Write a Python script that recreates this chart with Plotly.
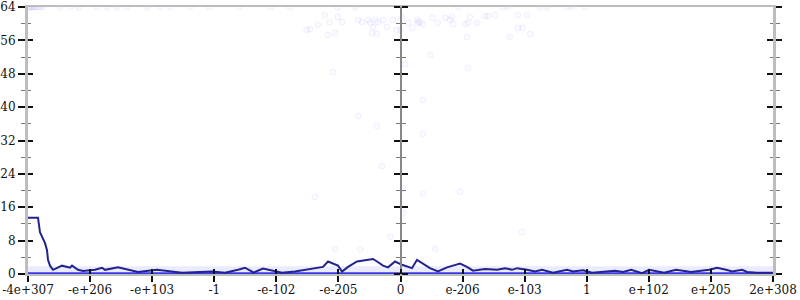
import plotly.graph_objects as go

# x positions are in an ordered float-space index (-6 .. 6), labelled with float magnitudes
tick_vals = [-6, -5, -4, -3, -2, -1, 0, 1, 2, 3, 4, 5, 6]
tick_text = ["-4e+307", "-e+206", "-e+103", "-1", "-e-102", "-e-205", "0",
             "e-206", "e-103", "1", "e+102", "e+205", "2e+308"]
y_ticks = [0, 8, 16, 24, 32, 40, 48, 56, 64]

# running mean line
mean_x = [-6.000, -5.839, -5.807, -5.758, -5.726, -5.694, -5.678, -5.646, -5.597, -5.452,
          -5.323, -5.291, -5.195, -5.114, -4.921, -4.808, -4.760, -4.550, -4.309, -4.228,
          -3.922, -3.632, -3.519, -3.036, -2.827, -2.617, -2.505, -2.392, -2.376, -2.215,
          -1.989, -1.909, -1.700, -1.538, -1.329, -1.248, -1.168, -1.007, -0.942, -0.845,
          -0.700, -0.443, -0.378, -0.282, -0.201, -0.088, 0.024, 0.185, 0.266, 0.347,
          0.475, 0.604, 0.749, 0.959, 1.071, 1.168, 1.361, 1.555, 1.684, 1.797,
          1.877, 2.038, 2.167, 2.280, 2.409, 2.457, 2.683, 2.779, 2.940, 3.085,
          3.456, 3.585, 3.714, 3.892, 4.004, 4.246, 4.439, 4.681, 4.971, 5.100,
          5.245, 5.341, 5.502, 5.583, 5.744, 6.000]
mean_y = [13.5, 13.5, 10.0, 8.6, 7.4, 5.7, 3.4, 2.0, 1.0, 2.0,
          1.5, 2.0, 1.0, 0.7, 1.0, 1.5, 1.0, 1.6, 0.8, 0.5,
          1.0, 0.5, 0.3, 0.6, 0.3, 1.0, 1.5, 0.6, 0.3, 1.3,
          0.6, 0.3, 0.6, 1.0, 1.4, 1.7, 3.0, 2.0, 0.6, 1.7,
          3.0, 3.6, 3.0, 2.0, 1.6, 3.0, 2.2, 1.4, 3.4, 2.7,
          1.4, 0.6, 1.6, 2.5, 1.7, 0.8, 1.2, 1.0, 1.4, 1.0,
          1.4, 1.0, 0.6, 1.0, 0.6, 0.3, 1.0, 0.6, 0.9, 0.3,
          0.8, 0.5, 1.0, 0.2, 1.0, 0.3, 1.0, 0.5, 1.0, 1.5,
          1.0, 0.6, 1.0, 0.5, 0.3, 0.3]

# dense sample bands at value 0 and value 1
band_x = [-6, 6]
band0_y = [0, 0]
band1_y = [1, 1]

# individual samples
pts_x = [-5.99, -5.97, -5.95, -5.92, -5.90, -5.87, -5.84, -5.80, -5.76, -5.48, -5.32, -5.19,
         -4.89, -4.73, -4.57, -4.41, -4.08, -3.87, -3.71, -3.39, -3.07, -2.59, -2.10, -1.78,
         -1.02, -0.73, 0.93, 1.64, 1.73, 2.25, 2.36, 2.68, 2.76, 2.97,
         -1.22, -1.01, -1.14, -0.94, -1.33, -1.51, -1.46, -1.17, -1.05, -0.68,
         -0.62, -0.52, -0.49, -0.41, -0.36, -0.28, -0.44, -0.46, -0.38, -0.22,
         -0.12, -0.06, 0.00, 0.02, 0.12, 0.19, 0.27, 0.28, 0.31, 0.36,
         0.51, 0.60, 0.72, 0.80, 0.83, 0.85, 1.04, 1.09, 1.12, 1.23,
         1.07, 1.36, 1.41, 1.52, 1.76, 1.89, 1.89, 1.97, 2.04, 2.09,
         0.48, 0.07, -1.09, 1.09, 0.36, -0.68, -0.38, 0.36, -0.30, 0.04,
         0.96, 0.36, -1.38, 0.04, 1.96, -0.17, -1.05, -0.65, 0.56]
pts_y = [64, 64, 64, 64, 64, 64, 64, 64, 64, 64, 64, 64,
         64, 64, 64, 64, 64, 64, 64, 64, 64, 64, 64, 64,
         64, 64, 64, 64, 64, 64, 64, 64, 64, 64,
         62.1, 61.6, 60.4, 60.4, 59.7, 58.5, 58.7, 57.3, 57.8, 60.9,
         60.4, 60.9, 60.2, 60.9, 60.4, 60.9, 59.2, 57.8, 57.5, 59.2,
         60.9, 58.5, 58.5, 61.4, 60.2, 59.0, 60.9, 60.2, 60.4, 59.9,
         61.4, 60.2, 61.4, 60.9, 61.6, 59.9, 59.9, 60.2, 61.6, 60.2,
         56.8, 61.8, 61.8, 62.1, 56.8, 59.0, 62.1, 59.0, 62.1, 57.5,
         52.5, 50.3, 48.4, 49.4, 41.7, 37.9, 35.5, 33.6, 25.9, 20.4,
         19.7, 19.2, 18.5, 14.6, 10.1, 8.9, 6.0, 6.0, 6.0]

FONT = "DejaVu Serif"
AX_GRAY = "#bdbdbd"

fig = go.Figure()

fig.add_trace(go.Scatter(x=band_x, y=band1_y, mode="lines",
                         line=dict(color="rgba(110,110,255,0.14)", width=7),
                         hoverinfo="skip", showlegend=False))
fig.add_trace(go.Scatter(x=pts_x, y=pts_y, mode="markers",
                         marker=dict(size=6, color="rgba(90,90,255,0.03)",
                                     line=dict(color="rgba(90,90,255,0.08)", width=1)),
                         hoverinfo="skip", showlegend=False))
fig.add_trace(go.Scatter(x=band_x, y=band0_y, mode="lines",
                         line=dict(color="#3a3ae6", width=3.5),
                         hoverinfo="skip", showlegend=False))
fig.add_trace(go.Scatter(x=mean_x, y=mean_y, mode="lines",
                         line=dict(color="#23238f", width=2),
                         hoverinfo="skip", showlegend=False))

# dummy traces so that the extra tick axes are drawn
for xa, ya in [("x2", "y"), ("x", "y2"), ("x", "y3"), ("x", "y4"), ("x", "y5"), ("x", "y6")]:
    fig.add_trace(go.Scatter(x=[None], y=[None], xaxis=xa, yaxis=ya,
                             hoverinfo="skip", showlegend=False))

minor_out = dict(dtick=4, ticklen=4, ticks="outside", tickcolor="#777", tickwidth=1)
minor_in = dict(dtick=4, ticklen=3, ticks="inside", tickcolor="#777", tickwidth=1)

common_y = dict(range=[0, 64], showgrid=False, zeroline=False, tickvals=y_ticks,
                tickcolor="#111", tickwidth=1.5, automargin=False)

fig.update_layout(
    width=800, height=300, autosize=False,
    margin=dict(l=28, r=27, t=7, b=26),
    paper_bgcolor="white", plot_bgcolor="white",
    font=dict(family=FONT, size=12, color="#111"),
    xaxis=dict(range=[-6, 6], tickvals=tick_vals, ticktext=tick_text,
               ticks="outside", ticklen=6, tickcolor="#111", tickwidth=1.5,
               ticklabelstandoff=-2,
               showgrid=False, zeroline=False, showline=True, mirror=True,
               linecolor=AX_GRAY, linewidth=2, automargin=False,
               tickfont=dict(family=FONT, size=12, color="#111")),
    xaxis2=dict(range=[-6, 6], overlaying="x", anchor="y", side="bottom",
                tickvals=tick_vals, ticks="inside", ticklen=5, tickcolor="#111",
                tickwidth=1.5, showticklabels=False, showgrid=False, zeroline=False,
                showline=False, automargin=False),
    yaxis=dict(**common_y, ticks="outside", ticklen=7, showline=True,
               linecolor=AX_GRAY, linewidth=3, minor=minor_out,
               tickfont=dict(family=FONT, size=12, color="#111")),
    yaxis2=dict(**common_y, overlaying="y", anchor="x", side="left", ticks="inside",
                ticklen=5, showticklabels=False, showline=False, minor=minor_in),
    yaxis3=dict(**common_y, overlaying="y", anchor="x", side="right", ticks="outside",
                ticklen=6, showticklabels=False, showline=True, linecolor=AX_GRAY,
                linewidth=3, minor=minor_out),
    yaxis4=dict(**common_y, overlaying="y", anchor="x", side="right", ticks="inside",
                ticklen=6, showticklabels=False, showline=False, minor=minor_in),
    yaxis5=dict(**common_y, overlaying="y", anchor="free", position=0.5, side="left",
                ticks="outside", ticklen=6, showticklabels=False, showline=True,
                linecolor="#888", linewidth=1.5, minor=minor_out),
    yaxis6=dict(**common_y, overlaying="y", anchor="free", position=0.5, side="right",
                ticks="outside", ticklen=6, showticklabels=False, showline=False,
                minor=minor_out),
)

fig.write_html("out.html")
